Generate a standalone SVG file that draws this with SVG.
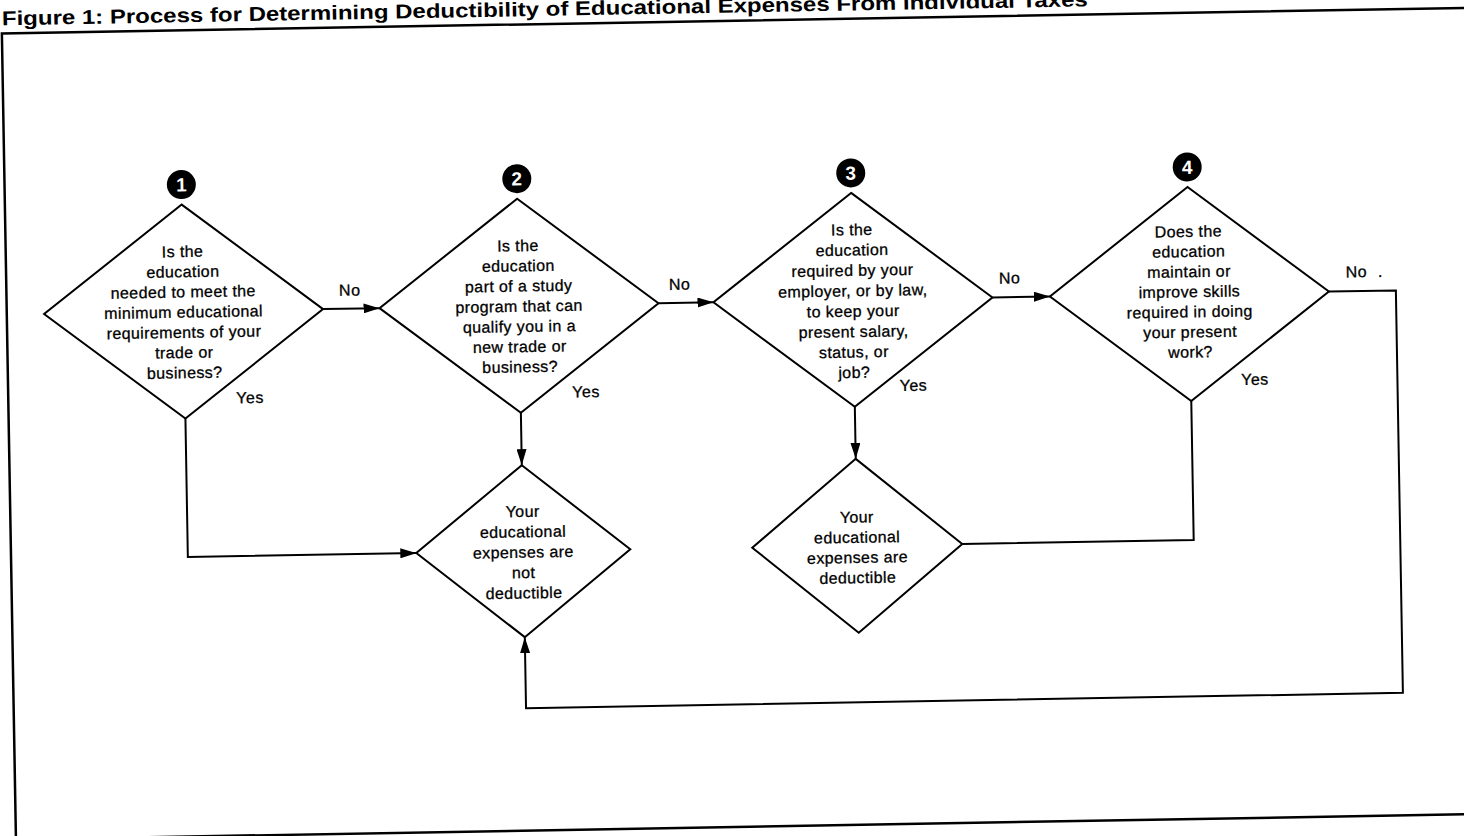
<svg xmlns="http://www.w3.org/2000/svg" width="1464" height="836" viewBox="0 0 1464 836">
<style>
.frame{fill:none;stroke:#000;stroke-width:2.5}
.dia{fill:#fff;stroke:#000;stroke-width:2;stroke-linejoin:miter}
.con{fill:none;stroke:#000;stroke-width:2}
.t{font-family:"Liberation Sans",Arial,Helvetica,sans-serif;font-size:16px;letter-spacing:0.4px;fill:#000;stroke:#000;stroke-width:0.3;text-anchor:middle}
.lbl{font-family:"Liberation Sans",Arial,Helvetica,sans-serif;font-size:16px;letter-spacing:0.5px;fill:#000;stroke:#000;stroke-width:0.3;text-anchor:middle}
.title{font-family:"Liberation Sans",Arial,Helvetica,sans-serif;font-size:20px;font-weight:bold;fill:#000}
.badge{fill:#000}
.num{font-family:"Liberation Sans",Arial,Helvetica,sans-serif;font-size:19px;font-weight:bold;fill:#fff;text-anchor:middle}
</style>
<defs>
<marker id="ah" viewBox="0 0 16 10" refX="16" refY="5" markerWidth="16" markerHeight="10" markerUnits="userSpaceOnUse" orient="auto">
<path d="M0,0 L16,5 L0,10 Z" fill="#000"/>
</marker>
</defs>
<rect x="0" y="0" width="1464" height="836" fill="#fff"/>
<g transform="rotate(-1 732 418)">
<text class="title" x="9" y="12.6" textLength="1086" lengthAdjust="spacingAndGlyphs">Figure 1: Process for Determining Deductibility of Educational Expenses From Individual Taxes</text>
<g id="frame">
<path class="frame" d="M8.7,850 V20.8 H1520"/>
<path class="frame" d="M-30,827 H1520"/>
</g>
<g id="connectors">
<path class="con" d="M325,302 H381.5" marker-end="url(#ah)"/>
<path class="con" d="M660.5,302 H715.5" marker-end="url(#ah)"/>
<path class="con" d="M994.5,302 H1052" marker-end="url(#ah)"/>
<path class="con" d="M185.5,409 V547.5 H414" marker-end="url(#ah)"/>
<path class="con" d="M521,409 V461.5" marker-end="url(#ah)"/>
<path class="con" d="M855,409 V461" marker-end="url(#ah)"/>
<path class="con" d="M960,548 H1191.5 V409"/>
<path class="con" d="M1331,302 H1398 V704.5 H521 V633.5" marker-end="url(#ah)"/>
<text class="lbl" x="352" y="289">No</text>
<text class="lbl" x="682" y="289">No</text>
<text class="lbl" x="1012" y="288.5">No</text>
<text class="lbl" x="1348" y="288.3" style="text-anchor:start;word-spacing:6px">No .</text>
<text class="lbl" x="250.5" y="394.7">Yes</text>
<text class="lbl" x="586.5" y="394.7">Yes</text>
<text class="lbl" x="914" y="394">Yes</text>
<text class="lbl" x="1255.5" y="394">Yes</text>
</g>
<g id="q1">
<circle class="badge" cx="185.5" cy="175" r="14.5"/>
<text class="num" x="185.5" y="181.8">1</text>
<polygon class="dia" points="185.5,195 325,302 185.5,409 46,302"/>
<text class="t" x="185.5" y="247.5">Is the</text>
<text class="t" x="185.5" y="267.7">education</text>
<text class="t" x="185.5" y="287.9">needed to meet the</text>
<text class="t" x="185.5" y="308.1">minimum educational</text>
<text class="t" x="185.5" y="328.3">requirements of your</text>
<text class="t" x="185.5" y="348.5">trade or</text>
<text class="t" x="185.5" y="368.7">business?</text>
</g>
<g id="q2">
<circle class="badge" cx="521" cy="175" r="14.5"/>
<text class="num" x="521" y="181.8">2</text>
<polygon class="dia" points="521,195 660.5,302 521,409 381.5,302"/>
<text class="t" x="521" y="247.5">Is the</text>
<text class="t" x="521" y="267.7">education</text>
<text class="t" x="521" y="287.9">part of a study</text>
<text class="t" x="521" y="308.1">program that can</text>
<text class="t" x="521" y="328.3">qualify you in a</text>
<text class="t" x="521" y="348.5">new trade or</text>
<text class="t" x="521" y="368.7">business?</text>
</g>
<g id="q3">
<circle class="badge" cx="855" cy="175" r="14.5"/>
<text class="num" x="855" y="181.8">3</text>
<polygon class="dia" points="855,195 994.5,302 855,409 715.5,302"/>
<text class="t" x="855" y="237.3">Is the</text>
<text class="t" x="855" y="257.7">education</text>
<text class="t" x="855" y="278.1">required by your</text>
<text class="t" x="855" y="298.5">employer, or by law,</text>
<text class="t" x="855" y="318.9">to keep your</text>
<text class="t" x="855" y="339.3">present salary,</text>
<text class="t" x="855" y="359.7">status, or</text>
<text class="t" x="855" y="380.1">job?</text>
</g>
<g id="q4">
<circle class="badge" cx="1191.5" cy="175" r="14.5"/>
<text class="num" x="1191.5" y="181.8">4</text>
<polygon class="dia" points="1191.5,195 1331,302 1191.5,409 1052,302"/>
<text class="t" x="1191.5" y="245">Does the</text>
<text class="t" x="1191.5" y="265.1">education</text>
<text class="t" x="1191.5" y="285.2">maintain or</text>
<text class="t" x="1191.5" y="305.3">improve skills</text>
<text class="t" x="1191.5" y="325.4">required in doing</text>
<text class="t" x="1191.5" y="345.5">your present</text>
<text class="t" x="1191.5" y="365.6">work?</text>
</g>
<g id="not-deductible">
<polygon class="dia" points="521,461.5 628,547.5 521,633.5 414,547.5"/>
<text class="t" x="521" y="513.3">Your</text>
<text class="t" x="521" y="533.7">educational</text>
<text class="t" x="521" y="554.1">expenses are</text>
<text class="t" x="521" y="574.5">not</text>
<text class="t" x="521" y="594.9">deductible</text>
</g>
<g id="deductible">
<polygon class="dia" points="855,461 960,548 855,635 750,548"/>
<text class="t" x="855" y="524.8">Your</text>
<text class="t" x="855" y="545">educational</text>
<text class="t" x="855" y="565.2">expenses are</text>
<text class="t" x="855" y="585.4">deductible</text>
</g>
</g>
</svg>
